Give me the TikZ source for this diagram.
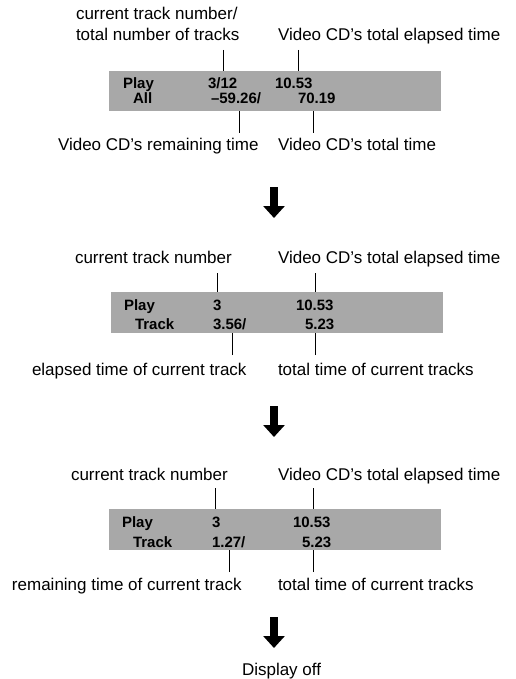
\documentclass[tikz,border=0pt]{standalone}
\usepackage{fontspec}
\setmainfont{Liberation Sans}
\usetikzlibrary{arrows.meta,positioning}
\definecolor{lcdgray}{HTML}{A8A8A8}

\begin{document}
\begin{tikzpicture}[x=1pt, y=-1pt,
    every node/.style={inner sep=0pt, outer sep=0pt},
    lbl/.style={anchor=base west, font=\fontsize{17}{21}\selectfont},
    lcd/.style={anchor=base west, font=\fontsize{15}{17}\selectfont\bfseries},
    lcdbox/.style={fill=lcdgray, anchor=north west},
    leader/.style={line width=0.8pt},
    bigarrow/.style={line width=7.5pt, -{Triangle[width=21pt, length=12pt]}}]
            \useasboundingbox (0,0) rectangle (515,679);

            % Display 1
            \node[lcdbox, minimum width=332pt, minimum height=40pt] (disp1) at (109,71) {};
            \node[lbl, align=left] (curtot) at (76,41) {current track number/\\total number of tracks};
            \node[lbl] (tot1) at (278,41) {Video CD's total elapsed time};
            \node[lcd] (play1) at (123,88.5) {Play};
            \node[lcd] (trk1) at (208,88.5) {3/12};
            \node[lcd] (el1) at (275,88.5) {10.53};
            \node[lcd] (all1) at (133,103.5) {All};
            \node[lcd] (rem1) at (211,103.5) {–59.26/};
            \node[lcd] (len1) at (298,103.5) {70.19};
            \node[lbl] (remlbl1) at (58,151) {Video CD's remaining time};
            \node[lbl] (lenlbl1) at (278,151) {Video CD's total time};
            \coordinate (u1a) at (223,50);
            \coordinate (u1b) at (298,50);
            \coordinate (d1a) at (239,133);
            \coordinate (d1b) at (313,133);
            \draw[leader] (u1a) -- (u1a |- disp1.north);
            \draw[leader] (u1b) -- (u1b |- disp1.north);
            \draw[leader] (d1a) -- (d1a |- disp1.south);
            \draw[leader] (d1b) -- (d1b |- disp1.south);

            % Arrow down
            \coordinate (a1s) at (274,187);
            \coordinate (a1e) at (274,218);
            \draw[bigarrow] (a1s) -- (a1e);

            % Display 2
            \node[lcdbox, minimum width=332pt, minimum height=41pt] (disp2) at (111,292) {};
            \node[lbl] (cur2) at (75,263) {current track number};
            \node[lbl] (tot2) at (278,263) {Video CD's total elapsed time};
            \node[lcd] (play2) at (124,310.5) {Play};
            \node[lcd] (trk2) at (213,310.5) {3};
            \node[lcd] (el2) at (296,310.5) {10.53};
            \node[lcd] (track2) at (135,329.5) {Track};
            \node[lcd] (tel2) at (213,329.5) {3.56/};
            \node[lcd] (len2) at (305,329.5) {5.23};
            \node[lbl] (tellbl2) at (32,375) {elapsed time of current track};
            \node[lbl] (lenlbl2) at (278,375) {total time of current tracks};
            \coordinate (u2a) at (217,273);
            \coordinate (u2b) at (315,273);
            \coordinate (d2a) at (232,355);
            \coordinate (d2b) at (315,355);
            \draw[leader] (u2a) -- (u2a |- disp2.north);
            \draw[leader] (u2b) -- (u2b |- disp2.north);
            \draw[leader] (d2a) -- (d2a |- disp2.south);
            \draw[leader] (d2b) -- (d2b |- disp2.south);

            % Arrow down
            \coordinate (a2s) at (274,406);
            \coordinate (a2e) at (274,437);
            \draw[bigarrow] (a2s) -- (a2e);

            % Display 3
            \node[lcdbox, minimum width=332pt, minimum height=41pt] (disp3) at (109,509) {};
            \node[lbl] (cur3) at (71,480) {current track number};
            \node[lbl] (tot3) at (278,480) {Video CD's total elapsed time};
            \node[lcd] (play3) at (122,527.5) {Play};
            \node[lcd] (trk3) at (212,527.5) {3};
            \node[lcd] (el3) at (293,527.5) {10.53};
            \node[lcd] (track3) at (133,547) {Track};
            \node[lcd] (trem3) at (212,547) {1.27/};
            \node[lcd] (len3) at (302,547) {5.23};
            \node[lbl] (tremlbl3) at (12,590) {remaining time of current track};
            \node[lbl] (lenlbl3) at (278,590) {total time of current tracks};
            \coordinate (u3a) at (215,488);
            \coordinate (u3b) at (313,488);
            \coordinate (d3a) at (229,572);
            \coordinate (d3b) at (313,572);
            \draw[leader] (u3a) -- (u3a |- disp3.north);
            \draw[leader] (u3b) -- (u3b |- disp3.north);
            \draw[leader] (d3a) -- (d3a |- disp3.south);
            \draw[leader] (d3b) -- (d3b |- disp3.south);

            % Arrow down
            \coordinate (a3s) at (274,617);
            \coordinate (a3e) at (274,648);
            \draw[bigarrow] (a3s) -- (a3e);

            % Off
            \node[lbl] (off) at (242,675) {Display off};
\end{tikzpicture}
\end{document}
